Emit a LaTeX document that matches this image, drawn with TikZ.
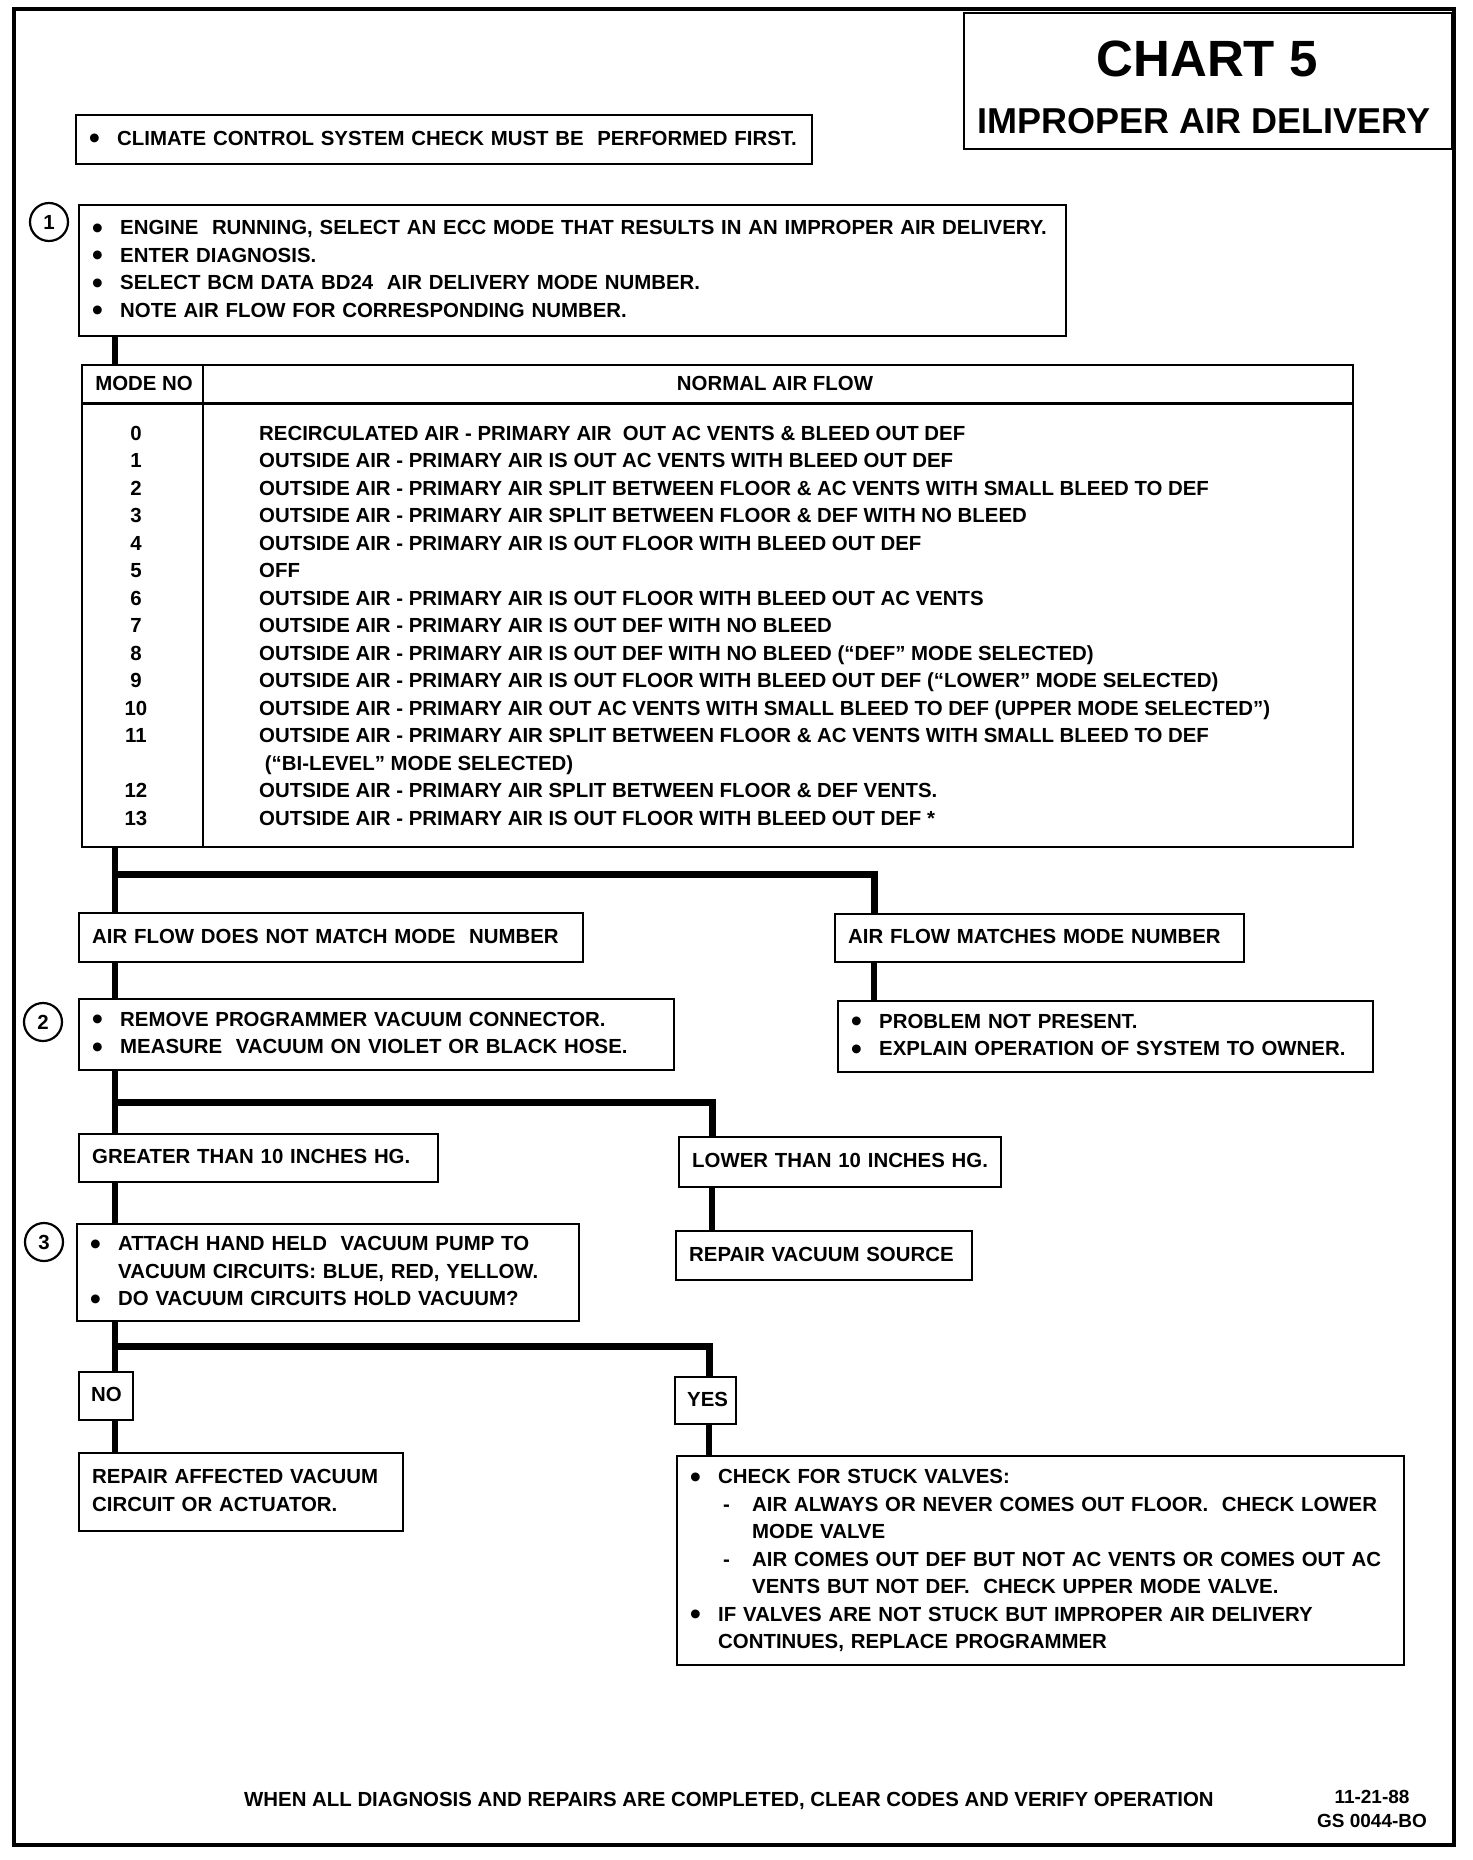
\documentclass[tikz,border=0pt]{standalone}
\usepackage{fontspec}
\usepackage{graphicx}
\setmainfont{Liberation Sans}
\usetikzlibrary{calc,positioning}

\newcommand{\chartfont}{\fontsize{20.4}{27.5}\selectfont\bfseries}
\newcommand{\titlefont}{\fontsize{51}{60}\selectfont\bfseries}
\newcommand{\subtitlefont}{\fontsize{36}{42}\selectfont\bfseries}
\newcommand{\stampfont}{\fontsize{19}{24}\selectfont\bfseries}
% rows of a box, never wrapped
\newcommand{\rows}[1]{\noindent\begin{tabular}{@{}l@{}}#1\end{tabular}}
\newcommand{\bul}{\makebox[28pt][l]{\raisebox{-3.4pt}{\scalebox{1.5}{\textbullet}}}}
\newcommand{\ind}{\hspace*{28pt}}
\newcommand{\dsh}{\makebox[34pt][l]{\hspace{5pt}-}}

\tikzset{
  box/.style={draw, line width=2.4pt, anchor=north west, inner xsep=13pt,
    inner ysep=0pt, align=left, font=\chartfont},
  link/.style={line width=6pt},
  fork/.style={line width=7pt},
  stepnum/.style={draw, circle, line width=2.2pt, minimum size=38pt,
    inner sep=0pt, font=\chartfont},
  txt/.style={inner sep=0pt, font=\chartfont},
}

\begin{document}
\begin{tikzpicture}[x=1pt,y=-1pt]
  \useasboundingbox (0,0) rectangle (1472,1860);
  \draw[line width=3.5pt] (14,9) rectangle (1454,1845);

  % title
  \node[draw, line width=2.4pt, anchor=north west, minimum width=488pt,
    minimum height=136pt, inner sep=0pt] (titlebox) at (963,12) {};
  \node[inner sep=0pt, font=\titlefont] (chart) at (1207,59) {CHART\hspace{14pt}5};
  \node[inner sep=0pt, font=\subtitlefont] (subtitle) at (1204,121) {IMPROPER AIR DELIVERY};

  \node[box, text width=710pt, minimum height=49pt] (climate) at (75,114)
    {\rows{\bul CLIMATE CONTROL SYSTEM CHECK MUST BE\ \ PERFORMED FIRST.}};

  % step 1
  \node[stepnum] (n1) at (49,222) {1};
  \node[box, text width=961pt, minimum height=131pt] (s1) at (78,204)
    {\rows{\bul ENGINE\ \ RUNNING, SELECT AN ECC MODE THAT RESULTS IN AN IMPROPER AIR DELIVERY.\\
     \bul ENTER DIAGNOSIS.\\
     \bul SELECT BCM DATA BD24\ \ AIR DELIVERY MODE NUMBER.\\
     \bul NOTE AIR FLOW FOR CORRESPONDING NUMBER.}};

  % mode table
  \node[draw, line width=2.4pt, anchor=north west, minimum width=1271pt,
    minimum height=482pt, inner sep=0pt] (tbl) at (81,364) {};
  \draw[line width=3pt] ($(tbl.north west)+(0,39)$) -- ($(tbl.north east)+(0,39)$);
  \draw[line width=1.5pt] ($(tbl.north west)+(122,0)$) -- ($(tbl.south west)+(122,0)$);
  \node[txt] (modehead) at (144,383) {MODE NO};
  \node[txt] (flowhead) at (775,383) {NORMAL AIR FLOW};
  \node[txt, anchor=north] (modes) at (136,421)
    {\begin{tabular}{@{}c@{}}0\\1\\2\\3\\4\\5\\6\\7\\8\\9\\10\\11\\ \\12\\13\end{tabular}};
  \node[txt, anchor=north west] (flows) at (259,421)
    {\rows{RECIRCULATED AIR - PRIMARY AIR\ \ OUT AC VENTS \& BLEED OUT DEF\\
     OUTSIDE AIR - PRIMARY AIR IS OUT AC VENTS WITH BLEED OUT DEF\\
     OUTSIDE AIR - PRIMARY AIR SPLIT BETWEEN FLOOR \& AC VENTS WITH SMALL BLEED TO DEF\\
     OUTSIDE AIR - PRIMARY AIR SPLIT BETWEEN FLOOR \& DEF WITH NO BLEED\\
     OUTSIDE AIR - PRIMARY AIR IS OUT FLOOR WITH BLEED OUT DEF\\
     OFF\\
     OUTSIDE AIR - PRIMARY AIR IS OUT FLOOR WITH BLEED OUT AC VENTS\\
     OUTSIDE AIR - PRIMARY AIR IS OUT DEF WITH NO BLEED\\
     OUTSIDE AIR - PRIMARY AIR IS OUT DEF WITH NO BLEED (“DEF” MODE SELECTED)\\
     OUTSIDE AIR - PRIMARY AIR IS OUT FLOOR WITH BLEED OUT DEF (“LOWER” MODE SELECTED)\\
     OUTSIDE AIR - PRIMARY AIR OUT AC VENTS WITH SMALL BLEED TO DEF (UPPER MODE SELECTED”)\\
     OUTSIDE AIR - PRIMARY AIR SPLIT BETWEEN FLOOR \& AC VENTS WITH SMALL BLEED TO DEF\\
     \ (“BI-LEVEL” MODE SELECTED)\\
     OUTSIDE AIR - PRIMARY AIR SPLIT BETWEEN FLOOR \& DEF VENTS.\\
     OUTSIDE AIR - PRIMARY AIR IS OUT FLOOR WITH BLEED OUT DEF *}};

  % first branch
  \node[box, text width=478pt, minimum height=49pt] (nomatch) at (78,912)
    {\rows{AIR FLOW DOES NOT MATCH MODE\ \ NUMBER}};
  \node[box, text width=383pt, minimum height=48pt] (match) at (834,913)
    {\rows{AIR FLOW MATCHES MODE NUMBER}};
  \node[stepnum] (n2) at (43,1022) {2};
  \node[box, text width=569pt, minimum height=71pt] (s2) at (78,998)
    {\rows{\bul REMOVE PROGRAMMER VACUUM CONNECTOR.\\
     \bul MEASURE\ \ VACUUM ON VIOLET OR BLACK HOSE.}};
  \node[box, text width=509pt, minimum height=71pt] (present) at (837,1000)
    {\rows{\bul PROBLEM NOT PRESENT.\\
     \bul EXPLAIN OPERATION OF SYSTEM TO OWNER.}};

  % second branch
  \node[box, text width=333pt, minimum height=48pt] (greater) at (78,1133)
    {\rows{GREATER THAN 10 INCHES HG.}};
  \node[box, text width=296pt, minimum height=50pt] (lower) at (678,1136)
    {\rows{LOWER THAN 10 INCHES HG.}};
  \node[box, text width=270pt, minimum height=49pt] (vsrc) at (675,1230)
    {\rows{REPAIR VACUUM SOURCE}};
  \node[stepnum] (n3) at (44,1242) {3};
  \node[box, text width=476pt, minimum height=97pt] (s3) at (76,1223)
    {\rows{\bul ATTACH HAND HELD\ \ VACUUM PUMP TO\\
     \ind VACUUM CIRCUITS: BLUE, RED, YELLOW.\\
     \bul DO VACUUM CIRCUITS HOLD VACUUM?}};

  % third branch
  \node[box, text width=30pt, minimum height=48pt, inner xsep=12pt] (no) at (78,1371)
    {\rows{NO}};
  \node[box, text width=37pt, minimum height=47pt, inner xsep=12pt] (yes) at (674,1376)
    {\rows{YES}};
  \node[box, text width=298pt, minimum height=78pt] (fix) at (78,1452)
    {\rows{REPAIR AFFECTED VACUUM\\ CIRCUIT OR ACTUATOR.}};
  \node[box, text width=701pt, minimum height=209pt] (final) at (676,1455)
    {\rows{\bul CHECK FOR STUCK VALVES:\\
     \ind\dsh AIR ALWAYS OR NEVER COMES OUT FLOOR.\ \ CHECK LOWER\\
     \ind\hspace*{34pt}MODE VALVE\\
     \ind\dsh AIR COMES OUT DEF BUT NOT AC VENTS OR COMES OUT AC\\
     \ind\hspace*{34pt}VENTS BUT NOT DEF.\ \ CHECK UPPER MODE VALVE.\\
     \bul IF VALVES ARE NOT STUCK BUT IMPROPER AIR DELIVERY\\
     \ind CONTINUES, REPLACE PROGRAMMER}};

  % footer
  \node[txt, anchor=west] (footnote) at (244,1801)
    {WHEN ALL DIAGNOSIS AND REPAIRS ARE COMPLETED, CLEAR CODES AND VERIFY OPERATION};
  \node[inner sep=0pt, font=\stampfont, align=center] (stamp) at (1372,1809)
    {11-21-88\\GS 0044-BO};

  % connectors
  \coordinate (spine) at (115,0);
  \coordinate (mtap) at (874,0);
  \coordinate (ltap) at (712,0);
  \coordinate (ytap) at (709,0);
  \coordinate (fork1) at (115,874);
  \coordinate (fork2) at (115,1102);
  \coordinate (fork3) at (115,1346);
  \draw[link] (s1.south -| spine) -- (tbl.north -| spine);
  \draw[link] (tbl.south -| spine) -- (nomatch.north -| spine);
  \draw[fork] (fork1) -| (match.north -| mtap);
  \draw[link] (match.south -| mtap) -- (present.north -| mtap);
  \draw[link] (nomatch.south -| spine) -- (s2.north -| spine);
  \draw[link] (s2.south -| spine) -- (greater.north -| spine);
  \draw[fork] (fork2) -| (lower.north -| ltap);
  \draw[link] (lower.south -| ltap) -- (vsrc.north -| ltap);
  \draw[link] (greater.south -| spine) -- (s3.north -| spine);
  \draw[link] (s3.south -| spine) -- (no.north -| spine);
  \draw[fork] (fork3) -| (yes.north -| ytap);
  \draw[link] (no.south -| spine) -- (fix.north -| spine);
  \draw[link] (yes.south -| ytap) -- (final.north -| ytap);
\end{tikzpicture}
\end{document}
